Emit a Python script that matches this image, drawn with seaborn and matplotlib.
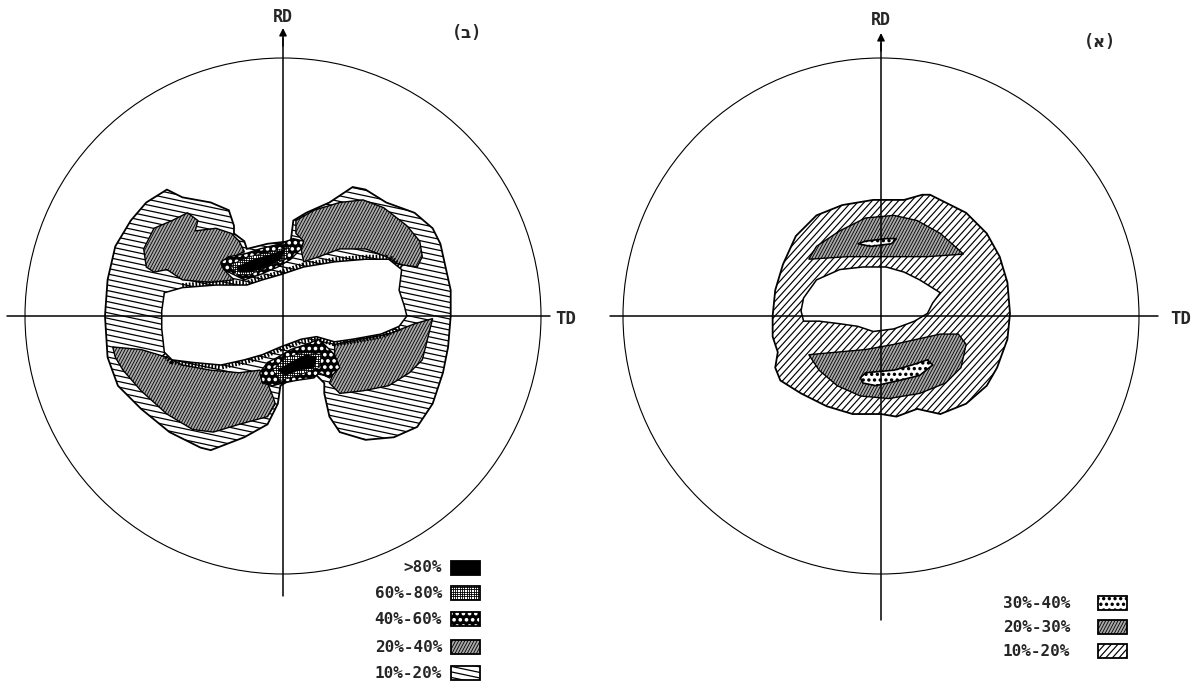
import numpy as np
import matplotlib
matplotlib.use("Agg")
import matplotlib.pyplot as plt
import seaborn as sns
from matplotlib.patches import Polygon, Circle
from matplotlib.collections import LineCollection

# ---------------------------------------------------------------------------
# Pole-figure contour regions, in units of the projection radius (u = TD, v = RD)
# ---------------------------------------------------------------------------

# Figure (ב): five intensity levels
b_outer_10_20 = [(-0.69, 0.00), (-0.68, 0.14), (-0.65, 0.27), (-0.59, 0.37), (-0.53, 0.44),
                 (-0.45, 0.49), (-0.39, 0.46), (-0.28, 0.44), (-0.21, 0.41), (-0.19, 0.35),
                 (-0.19, 0.32), (-0.15, 0.29), (-0.14, 0.26), (-0.06, 0.28), (0.03, 0.29),
                 (0.04, 0.37), (0.09, 0.40), (0.18, 0.44), (0.27, 0.50), (0.32, 0.49),
                 (0.40, 0.44), (0.51, 0.40), (0.58, 0.34), (0.61, 0.28), (0.63, 0.19),
                 (0.65, 0.10), (0.65, 0.00), (0.64, -0.12), (0.62, -0.22), (0.58, -0.34),
                 (0.52, -0.43), (0.43, -0.47), (0.32, -0.48), (0.22, -0.45), (0.18, -0.39),
                 (0.16, -0.30), (0.16, -0.26), (0.12, -0.22), (0.04, -0.24), (-0.01, -0.27),
                 (-0.02, -0.34), (-0.06, -0.42), (-0.15, -0.47), (-0.28, -0.52), (-0.32, -0.51),
                 (-0.44, -0.45), (-0.55, -0.36), (-0.64, -0.27), (-0.68, -0.16)]

b_hole = [(-0.46, 0.09), (-0.39, 0.11), (-0.26, 0.12), (-0.14, 0.12), (-0.08, 0.14),
          (-0.01, 0.16), (0.08, 0.19), (0.20, 0.21), (0.32, 0.22), (0.41, 0.22),
          (0.46, 0.18), (0.45, 0.10), (0.47, 0.04), (0.48, 0.00), (0.45, -0.04),
          (0.38, -0.07), (0.27, -0.09), (0.20, -0.10), (0.13, -0.08), (0.07, -0.09),
          (-0.01, -0.12), (-0.08, -0.15), (-0.15, -0.17), (-0.24, -0.19), (-0.35, -0.18),
          (-0.43, -0.17), (-0.46, -0.14), (-0.47, -0.05), (-0.47, 0.02)]

b_20_40_upper_left = [(-0.54, 0.26), (-0.50, 0.34), (-0.43, 0.37), (-0.37, 0.40), (-0.33, 0.37),
                      (-0.34, 0.33), (-0.26, 0.34), (-0.20, 0.32), (-0.17, 0.29), (-0.15, 0.25),
                      (-0.19, 0.23), (-0.24, 0.20), (-0.22, 0.17), (-0.19, 0.14), (-0.28, 0.13),
                      (-0.39, 0.14), (-0.45, 0.18), (-0.50, 0.17), (-0.53, 0.19)]
b_20_40_upper_right = [(0.05, 0.37), (0.12, 0.41), (0.22, 0.44), (0.31, 0.45), (0.39, 0.42),
                       (0.48, 0.35), (0.53, 0.29), (0.54, 0.23), (0.52, 0.19), (0.45, 0.20),
                       (0.40, 0.23), (0.32, 0.26), (0.22, 0.26), (0.14, 0.23), (0.08, 0.21),
                       (0.07, 0.26), (0.08, 0.29), (0.05, 0.32)]
b_20_40_lower_left = [(-0.66, -0.12), (-0.55, -0.13), (-0.45, -0.16), (-0.39, -0.19), (-0.28, -0.21),
                      (-0.17, -0.22), (-0.09, -0.21), (-0.06, -0.26), (-0.04, -0.31), (-0.03, -0.34),
                      (-0.06, -0.39), (-0.17, -0.42), (-0.27, -0.45), (-0.35, -0.44), (-0.45, -0.38),
                      (-0.55, -0.29), (-0.62, -0.21), (-0.65, -0.16)]
b_20_40_lower_right = [(0.20, -0.11), (0.30, -0.09), (0.41, -0.07), (0.51, -0.03), (0.58, -0.01),
                       (0.56, -0.09), (0.54, -0.17), (0.49, -0.22), (0.41, -0.27), (0.31, -0.29),
                       (0.22, -0.30), (0.18, -0.26), (0.20, -0.21)]

b_40_60_upper = [(-0.24, 0.21), (-0.21, 0.23), (-0.15, 0.24), (-0.09, 0.26), (-0.01, 0.28),
                 (0.04, 0.30), (0.08, 0.29), (0.07, 0.26), (0.03, 0.22), (-0.02, 0.19),
                 (-0.09, 0.16), (-0.15, 0.14), (-0.19, 0.16), (-0.23, 0.18)]
b_40_60_lower = [(-0.09, -0.22), (-0.06, -0.18), (-0.02, -0.16), (0.03, -0.13), (0.09, -0.11),
                 (0.14, -0.09), (0.20, -0.15), (0.22, -0.20), (0.18, -0.24), (0.14, -0.22),
                 (0.12, -0.24), (0.05, -0.25), (0.00, -0.26), (-0.04, -0.27), (-0.08, -0.26)]
b_60_80_upper = [(-0.20, 0.20), (-0.13, 0.23), (-0.04, 0.25), (0.03, 0.27), (0.01, 0.22),
                 (-0.06, 0.19), (-0.13, 0.16), (-0.18, 0.16)]
b_60_80_lower = [(-0.04, -0.21), (0.01, -0.16), (0.09, -0.14), (0.15, -0.15), (0.14, -0.20),
                 (0.06, -0.23), (-0.01, -0.25)]
b_over_80_upper = [(-0.18, 0.19), (-0.11, 0.22), (-0.04, 0.24), (0.01, 0.26), (-0.01, 0.22),
                   (-0.06, 0.19), (-0.13, 0.17), (-0.17, 0.17)]
b_over_80_lower = [(-0.02, -0.21), (0.03, -0.18), (0.09, -0.15), (0.13, -0.16), (0.12, -0.20),
                   (0.06, -0.21), (0.01, -0.23)]

# Figure (א): three intensity levels
a_outer_10_20 = [(-0.42, 0.00), (-0.41, 0.10), (-0.38, 0.20), (-0.33, 0.31), (-0.25, 0.39),
                 (-0.15, 0.43), (-0.03, 0.45), (0.09, 0.45), (0.16, 0.47), (0.19, 0.47),
                 (0.25, 0.44), (0.33, 0.40), (0.41, 0.32), (0.46, 0.23), (0.49, 0.13),
                 (0.50, 0.01), (0.49, -0.09), (0.45, -0.20), (0.41, -0.27), (0.33, -0.34),
                 (0.23, -0.38), (0.14, -0.36), (0.06, -0.39), (0.00, -0.38), (-0.11, -0.38),
                 (-0.21, -0.35), (-0.31, -0.30), (-0.39, -0.25), (-0.41, -0.20), (-0.40, -0.14),
                 (-0.42, -0.08)]
a_hole = [(-0.30, 0.07), (-0.25, 0.14), (-0.16, 0.18), (-0.07, 0.19), (0.02, 0.19),
          (0.09, 0.17), (0.15, 0.14), (0.23, 0.09), (0.20, 0.05), (0.18, 0.01),
          (0.13, -0.02), (0.05, -0.05), (-0.03, -0.06), (-0.09, -0.04), (-0.16, -0.03),
          (-0.24, -0.02), (-0.30, -0.02), (-0.31, 0.02)]
a_20_30_upper = [(-0.28, 0.22), (-0.25, 0.27), (-0.16, 0.33), (-0.06, 0.38), (0.05, 0.39),
                 (0.14, 0.37), (0.23, 0.32), (0.32, 0.24), (0.18, 0.23), (0.02, 0.23),
                 (-0.13, 0.23)]
a_20_30_lower = [(-0.28, -0.15), (-0.17, -0.14), (-0.06, -0.13), (0.05, -0.11), (0.14, -0.09),
                 (0.23, -0.07), (0.30, -0.07), (0.33, -0.11), (0.31, -0.20), (0.25, -0.26),
                 (0.15, -0.30), (0.03, -0.32), (-0.08, -0.31), (-0.17, -0.27), (-0.24, -0.21)]
a_30_40_upper = [(-0.09, 0.28), (-0.06, 0.29), (0.02, 0.30), (0.06, 0.30), (0.04, 0.28),
                 (-0.04, 0.27)]
a_30_40_lower = [(-0.08, -0.24), (-0.06, -0.22), (0.05, -0.21), (0.12, -0.19), (0.18, -0.17),
                 (0.20, -0.19), (0.15, -0.23), (0.07, -0.25), (-0.02, -0.27), (-0.07, -0.26)]

# Legend labels
b_levels = [">80%", "60%-80%", "40%-60%", "20%-40%", "10%-20%"]
a_levels = ["30%-40%", "20%-30%", "10%-20%"]
panel_titles = ["(ב)", "(א)"]
axis_labels = ["RD", "TD"]

# ---------------------------------------------------------------------------
# Fill styles for the intensity levels
# ---------------------------------------------------------------------------
STYLES = {
    "solid": dict(fc="black"),
    "grid": dict(fc="white", lines=[(0, 0.009, 0.6), (90, 0.009, 0.6)]),
    "dots_dark": dict(fc="black", dots=("white", 0.024, 7)),
    "dense": dict(fc="#a8a8a8", lines=[(62, 0.0105, 0.6)]),
    "sparse_back": dict(fc="white", lines=[(-12, 0.021, 0.9)]),
    "sparse_fwd": dict(fc="white", lines=[(48, 0.019, 0.85)]),
    "dots_light": dict(fc="white", dots=("black", 0.022, 6)),
}

sns.set_style("white")
plt.rcParams["font.family"] = ["DejaVu Sans Mono", "DejaVu Sans"]
plt.rcParams["lines.scale_dashes"] = False


def fill_region(ax, verts, style, z, edge_lw=1.0, face=None):
    verts = np.asarray(verts, dtype=float)
    st = STYLES[style]
    patch = Polygon(verts, closed=True, facecolor=face or st["fc"], edgecolor="none", zorder=z)
    ax.add_patch(patch)
    (x0, y0), (x1, y1) = verts.min(0), verts.max(0)
    cx, cy = (x0 + x1) / 2, (y0 + y1) / 2
    half = np.hypot(x1 - x0, y1 - y0) / 2 + 0.05
    for ang, gap, lw in st.get("lines", []):
        th = np.deg2rad(ang)
        d = np.array([np.cos(th), np.sin(th)])
        n = np.array([-np.sin(th), np.cos(th)])
        offs = np.arange(-half, half + gap, gap)
        segs = [[(cx + o * n[0] - half * d[0], cy + o * n[1] - half * d[1]),
                 (cx + o * n[0] + half * d[0], cy + o * n[1] + half * d[1])] for o in offs]
        lc = LineCollection(segs, colors="black", linewidths=lw, zorder=z + 0.1)
        ax.add_collection(lc)
        lc.set_clip_path(patch)
    if "dots" in st:
        col, gap, size = st["dots"]
        gx, gy = np.meshgrid(np.arange(x0, x1 + gap, gap), np.arange(y0, y1 + gap, gap))
        gx[1::2] += gap / 2
        n_before = len(ax.collections)
        sns.scatterplot(x=gx.ravel(), y=gy.ravel(), ax=ax, s=size, color=col,
                        edgecolor="none", linewidth=0, legend=False, zorder=z + 0.1)
        for coll in ax.collections[n_before:]:
            coll.set_clip_path(patch)
    ax.add_patch(Polygon(verts, closed=True, fill=False, edgecolor="black",
                         lw=edge_lw, zorder=z + 0.2))
    return patch


def draw_frame(ax, tip_v, bottom_v, h_left, h_right, td_u, rd_v):
    ax.add_patch(Circle((0, 0), 1.0, fill=False, edgecolor="black", lw=0.8, zorder=0.5))
    ax.plot([h_left, h_right], [0, 0], color="black", lw=1.1, zorder=10)
    ax.plot([0, 0], [bottom_v, tip_v - 0.04], color="black", lw=1.1, zorder=10)
    ax.annotate("", xy=(0, tip_v), xytext=(0, tip_v - 0.07),
                arrowprops=dict(arrowstyle="-|>", color="black", lw=1.1,
                                mutation_scale=11, shrinkA=0, shrinkB=0), zorder=10)
    ax.text(0, rd_v, axis_labels[0], ha="center", va="center", fontsize=12,
            fontweight="bold", zorder=10)
    ax.text(td_u, -0.01, axis_labels[1], ha="center", va="center", fontsize=12.5,
            fontweight="bold", zorder=10)


def draw_legend(ax, labels, styles, text_u, box_u0, box_u1, rows_v, ha):
    for lab, st, v in zip(labels, styles, rows_v):
        ax.text(text_u, v, lab, ha=ha, va="center", fontsize=11.5, fontweight="bold")
        box = [(box_u0, v - 0.027), (box_u1, v - 0.027), (box_u1, v + 0.027), (box_u0, v + 0.027)]
        fill_region(ax, box, st, 20, edge_lw=1.3)


fig = plt.figure(figsize=(11.97, 6.90), dpi=100)
R = 258.0  # projection radius in pixels

ax_b = fig.add_axes([0, 0, 598 / 1197, 1])
ax_b.set_xlim((0 - 283) / R, (598 - 283) / R)
ax_b.set_ylim((316 - 690) / R, 316 / R)
ax_a = fig.add_axes([598 / 1197, 0, 599 / 1197, 1])
ax_a.set_xlim((598 - 881) / R, (1197 - 881) / R)
ax_a.set_ylim((316 - 690) / R, 316 / R)
for ax in (ax_b, ax_a):
    ax.axis("off")

# ---- figure (ב) ----
fill_region(ax_b, b_outer_10_20, "sparse_back", 1, edge_lw=1.3)
for poly in (b_20_40_upper_left, b_20_40_upper_right, b_20_40_lower_left, b_20_40_lower_right):
    fill_region(ax_b, poly, "dense", 2)
for poly in (b_40_60_upper, b_40_60_lower):
    fill_region(ax_b, poly, "dots_dark", 3)
for poly in (b_60_80_upper, b_60_80_lower):
    fill_region(ax_b, poly, "grid", 4, edge_lw=0.6)
for poly in (b_over_80_upper, b_over_80_lower):
    fill_region(ax_b, poly, "solid", 5, edge_lw=0.6)

# striped rim along the upper and lower edges of the empty centre
hole_b = np.asarray(b_hole)
for seg in (hole_b[1:11], hole_b[14:27]):
    ax_b.plot(seg[:, 0], seg[:, 1], color="black", lw=6.5, dashes=(1.2, 1.2),
              solid_capstyle="butt", zorder=6)
fill_region(ax_b, b_hole, "solid", 7, edge_lw=1.1, face="white")

draw_frame(ax_b, (316 - 28) / R, (316 - 596) / R, (7 - 283) / R, (550 - 283) / R,
           (566 - 283) / R, (316 - 17) / R)
ax_b.text((467 - 283) / R, (316 - 33) / R, panel_titles[0], ha="center", va="center",
          fontsize=12, fontweight="bold")
draw_legend(ax_b, b_levels, ["solid", "grid", "dots_dark", "dense", "sparse_back"],
            (442 - 283) / R, (451 - 283) / R, (480 - 283) / R,
            [(316 - y) / R for y in (568, 593, 619, 647, 673)], "right")

# ---- figure (א) ----
fill_region(ax_a, a_outer_10_20, "sparse_fwd", 1, edge_lw=1.3)
for poly in (a_20_30_upper, a_20_30_lower):
    fill_region(ax_a, poly, "dense", 2)
for poly in (a_30_40_upper, a_30_40_lower):
    fill_region(ax_a, poly, "dots_light", 3, edge_lw=1.2)
fill_region(ax_a, a_hole, "solid", 7, edge_lw=1.1, face="white")

draw_frame(ax_a, (316 - 33) / R, (316 - 620) / R, (610 - 881) / R, (1158 - 881) / R,
           (1181 - 881) / R, (316 - 20) / R)
ax_a.text((1100 - 881) / R, (316 - 42) / R, panel_titles[1], ha="center", va="center",
          fontsize=12, fontweight="bold")
draw_legend(ax_a, a_levels, ["dots_light", "dense", "sparse_fwd"],
            (1003 - 881) / R, (1098 - 881) / R, (1127 - 881) / R,
            [(316 - y) / R for y in (603, 627, 651)], "left")

fig.savefig("out.png", dpi=100)
